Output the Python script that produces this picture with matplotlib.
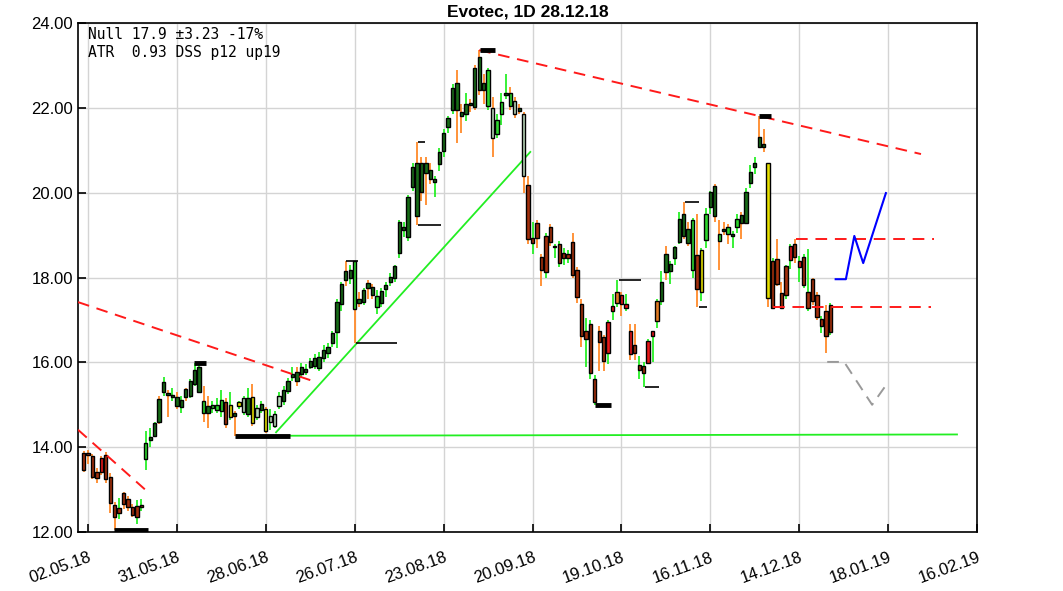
import numpy as np
import matplotlib
matplotlib.use('Agg')
import matplotlib.pyplot as plt

# candle index: 0 = 02.05.18, one step = one trading day
first_day = -1
# body ends (a = open, b = close), high, low, body colour, wick colour
a = [13.87, 13.87, 13.79, 13.42, 13.74, 13.82, 13.29, 12.64, 12.56, 12.91,
     12.77, 12.58, 12.62, 12.63, 13.72, 14.17, 14.27, 14.60, 15.29, 15.22,
     15.19, 14.96, 14.94, 15.19, 15.21, 15.50, 15.31, 14.80, 14.81, 14.92,
     14.88, 14.86, 15.07, 14.99, 14.80, 15.06, 15.15, 14.78, 15.18, 14.72,
     14.88, 14.89, 14.60, 14.50, 14.97, 15.10, 15.33, 15.65, 15.56, 15.73,
     15.78, 15.90, 15.92, 15.86, 16.10, 16.21, 16.45, 16.72, 17.37, 17.93,
     17.98, 17.25, 17.39, 17.43, 17.75, 17.59, 17.31, 17.39, 17.72, 17.90,
     17.98, 18.57, 19.12, 18.95, 20.14, 19.46, 20.02, 20.47, 20.32, 20.26,
     20.68, 20.98, 21.54, 21.95, 21.95, 21.81, 21.85, 22.06, 22.03, 22.42,
     22.42, 22.05, 21.28, 21.38, 21.85, 22.30, 22.04, 21.85, 21.93, 20.39,
     20.18, 18.92, 19.28, 18.48, 18.99, 19.20, 18.74, 18.78, 18.57, 18.55,
     18.84, 18.18, 17.37, 16.74, 16.90, 15.60, 16.75, 16.59, 16.94, 17.33,
     17.41, 17.59, 17.37, 16.74, 16.41, 15.94, 15.92, 16.50, 16.73, 16.98,
     17.44, 18.12, 18.16, 18.45, 18.83, 18.99, 18.81, 18.18, 18.54, 17.67,
     18.88, 19.67, 19.45, 18.87, 19.10, 19.03, 18.99, 19.18, 19.28, 19.28,
     20.22, 20.60, 21.08, 21.07, 20.71, 18.40, 18.44, 17.63, 18.26, 18.74,
     18.79, 18.39, 18.49, 17.65, 17.96, 17.59, 17.02, 17.21, 17.35]
b = [13.46, 13.81, 13.29, 13.27, 13.42, 13.24, 12.69, 12.35, 12.44, 12.65,
     12.58, 12.39, 12.35, 12.58, 14.10, 14.25, 14.56, 15.13, 15.53, 15.28,
     15.23, 15.19, 15.11, 15.36, 15.56, 15.82, 15.88, 15.10, 14.97, 14.99,
     15.00, 15.11, 14.55, 14.72, 14.74, 14.96, 14.84, 15.15, 14.58, 14.92,
     15.02, 14.37, 14.74, 14.78, 15.21, 15.35, 15.57, 15.73, 15.77, 15.88,
     15.84, 16.04, 16.10, 16.13, 16.30, 16.35, 16.68, 17.42, 17.84, 18.16,
     18.18, 18.40, 17.50, 17.70, 17.86, 17.78, 17.56, 17.68, 17.82, 18.02,
     18.27, 19.30, 19.20, 19.89, 20.61, 20.69, 20.69, 20.70, 20.53, 20.32,
     20.95, 21.40, 21.75, 22.47, 22.58, 21.91, 22.08, 22.11, 22.93, 23.19,
     22.58, 22.89, 21.99, 21.71, 22.13, 22.36, 22.34, 22.16, 21.99, 21.85,
     18.90, 18.81, 18.92, 18.18, 18.12, 18.84, 18.71, 18.34, 18.45, 18.45,
     18.07, 17.53, 16.61, 16.54, 15.74, 15.07, 16.47, 16.02, 16.23, 17.22,
     17.65, 17.37, 17.27, 16.20, 16.21, 15.82, 15.74, 15.99, 16.63, 17.44,
     17.90, 18.55, 18.33, 18.73, 19.38, 19.50, 19.14, 19.36, 17.72, 18.66,
     19.49, 20.02, 20.16, 19.03, 19.14, 19.18, 19.03, 19.37, 19.47, 20.02,
     20.49, 20.71, 21.32, 21.15, 17.51, 17.27, 17.85, 17.29, 17.59, 18.41,
     18.49, 18.24, 17.82, 17.27, 17.45, 17.08, 16.86, 16.61, 16.71]
hi = [13.92, 13.93, 13.85, 13.50, 13.80, 13.88, 13.40, 12.70, 12.80, 12.95,
      12.85, 12.65, 12.75, 12.78, 14.37, 14.45, 14.60, 15.20, 15.66, 15.35,
      15.40, 15.30, 15.20, 15.40, 15.60, 15.99, 15.99, 15.45, 15.20, 15.10,
      15.15, 15.35, 15.15, 15.30, 14.85, 15.10, 15.20, 15.40, 15.48, 15.00,
      15.10, 14.95, 14.90, 14.85, 15.30, 15.45, 15.62, 15.90, 15.90, 15.98,
      15.95, 16.10, 16.20, 16.25, 16.40, 16.45, 16.75, 17.50, 17.90, 18.40,
      18.30, 18.40, 17.65, 17.75, 17.95, 17.85, 17.70, 17.75, 17.90, 18.10,
      18.30, 19.35, 19.30, 19.95, 20.70, 21.20, 20.85, 20.85, 20.70, 20.40,
      21.05, 21.50, 21.80, 22.55, 22.90, 22.10, 22.35, 22.20, 23.00, 23.36,
      22.80, 22.95, 22.25, 21.85, 22.35, 22.80, 22.50, 22.25, 22.10, 21.90,
      20.40, 19.30, 19.35, 18.55, 19.05, 19.25, 18.80, 18.85, 18.70, 18.65,
      19.05, 18.25, 17.50, 17.05, 17.00, 15.70, 16.85, 16.65, 17.00, 17.60,
      17.94, 17.65, 17.60, 16.90, 16.90, 16.15, 16.00, 16.55, 16.75, 17.50,
      18.15, 18.75, 18.40, 18.75, 19.55, 19.79, 19.30, 19.40, 19.50, 18.70,
      19.65, 20.05, 20.20, 19.36, 19.30, 19.25, 19.10, 19.50, 19.55, 20.10,
      20.65, 20.85, 21.80, 21.50, 20.71, 18.45, 18.90, 17.90, 18.30, 18.80,
      18.90, 18.50, 18.55, 18.67, 18.00, 17.65, 17.10, 17.35, 17.40]
lo = [13.42, 13.60, 13.25, 13.15, 13.35, 13.15, 12.45, 12.05, 12.30, 12.55,
      12.50, 12.35, 12.20, 12.50, 13.46, 14.00, 14.25, 14.55, 15.20, 14.72,
      15.10, 14.90, 14.80, 15.10, 15.15, 15.45, 15.30, 14.60, 14.45, 14.80,
      14.80, 14.70, 14.45, 14.65, 14.26, 14.90, 14.75, 14.70, 14.50, 14.65,
      14.80, 14.33, 14.40, 14.45, 14.90, 15.00, 15.25, 15.55, 15.45, 15.65,
      15.70, 15.85, 15.85, 15.80, 16.00, 16.10, 16.35, 16.34, 17.20, 17.80,
      17.85, 16.45, 17.30, 17.35, 17.50, 17.50, 17.15, 17.30, 17.55, 17.80,
      17.90, 18.45, 18.95, 18.85, 20.05, 19.24, 19.80, 19.70, 20.20, 19.90,
      20.50, 20.85, 21.40, 21.85, 21.17, 21.40, 21.70, 21.90, 21.95, 22.30,
      22.10, 21.95, 20.85, 21.30, 21.60, 22.20, 21.95, 21.75, 21.85, 20.00,
      18.80, 18.55, 18.70, 17.80, 18.00, 18.75, 18.45, 18.25, 18.30, 18.35,
      18.00, 17.40, 16.35, 15.90, 15.60, 14.99, 15.80, 15.80, 15.95, 17.00,
      17.30, 17.10, 17.20, 16.05, 16.05, 15.60, 15.43, 15.95, 16.00, 16.80,
      17.35, 17.95, 17.85, 18.30, 18.80, 18.90, 18.75, 18.00, 17.31, 17.45,
      18.70, 19.50, 19.30, 18.18, 19.00, 18.80, 18.70, 19.05, 18.90, 19.25,
      20.10, 20.45, 21.05, 20.95, 17.30, 17.27, 17.80, 17.29, 17.50, 18.20,
      18.35, 17.90, 17.75, 17.20, 17.35, 17.00, 16.70, 16.21, 16.65]
body = ('br br br br rd br br br br br '
        'br br br br lg dg dg dg dg dg '
        'dg dg dg dg dg dg dg lg dg lg '
        'lg lg br ye dg ye pg dg ye pg '
        'dg ye pg pg pg dg dg dg dg dg '
        'dg dg dg dg dg dg dg dg dg dg '
        'dg lg dg dg dg dg lg dg dg dg '
        'dg dg dg dg dg dg dg dg dg dg '
        'dg dg dg dg dg dg dg dg dg dg '
        'dg lg pg lg lg dg lg pg dg pg '
        'br br br br br br br br br br '
        'br br br br br br br br rd rd '
        'or rd rd rd br br br rd rd or '
        'dg dg dg dg dg dg dg lg br ye '
        'lg dg dg lg dg lg dg lg dg dg '
        'dg dg dg dg ye br br br br rd '
        'br rd br br br br br br br').split()
wick = ('o o o o o o o o g o '
        'o o g g g g g o g o '
        'g o g o g g g o o g '
        'g g o g o g g g o g '
        'g o g g g g g g o g '
        'g g g g g g g g g o '
        'g o o g o o g g g g '
        'g g g g g o o o o g '
        'g g g g o o g o o o '
        'o g o g g g o o o o '
        'o g o o g o g g g g '
        'o o o g g g o o g g '
        'g o g o o g g g g g '
        'g o g g g o o g o g '
        'g g o o o o g g o g '
        'g g o o o g o o g g '
        'o g g g o o g o g').split()

# overlay lines (index, price)
res1_x, res1_y = [-2.25, 50.3], [17.42, 15.57]
res2_x, res2_y = [-2.25, 13.5], [14.41, 12.94]
res3_x, res3_y = [88.0, 187.4], [23.36, 20.91]
lvl_hi_x, lvl_hi_y = [159.3, 190.3], [18.91, 18.91]
lvl_lo_x, lvl_lo_y = [154.0, 189.7], [17.30, 17.30]
sup_x, sup_y = [45.4, 195.5], [14.27, 14.30]
up_x, up_y = [42.3, 99.5], [14.35, 20.96]
fc_up_x = [168.2, 170.5, 172.4, 174.4, 179.5]
fc_up_y = [17.96, 17.96, 18.98, 18.34, 19.99]
fc_dn_x = [166.3, 170.1, 176.4, 180.2]
fc_dn_y = [16.01, 16.01, 15.00, 15.56]
# black marks: (x0, x1, price, thick)
marks = [(5.9, 13.5, 12.05, 1), (23.8, 26.5, 15.99, 1), (33.0, 45.4, 14.27, 1),
         (58.1, 60.7, 18.40, 0), (60.3, 69.4, 16.45, 0), (74.2, 75.8, 21.19, 0),
         (74.2, 79.3, 19.24, 0), (88.1, 91.6, 23.36, 1), (114.0, 117.7, 14.99, 1),
         (119.4, 124.4, 17.94, 0), (125.2, 128.5, 15.42, 0), (134.4, 137.5, 19.78, 0),
         (137.5, 139.3, 17.31, 0), (151.0, 153.6, 21.80, 1)]

tick_pos = [0, 20, 40, 60, 80, 100, 120, 140, 160, 180, 200]
tick_lab = ['02.05.18', '31.05.18', '28.06.18', '26.07.18', '23.08.18', '20.09.18',
            '19.10.18', '16.11.18', '14.12.18', '18.01.19', '16.02.19']

cols = {'dg': '#176b17', 'lg': '#2ed62e', 'pg': '#b9d6b9', 'br': '#a3300c',
        'rd': '#e81818', 'or': '#e07a22', 'ye': '#e6df00'}
wcols = {'g': '#28f028', 'o': '#ff8a2a'}

plt.rcParams['font.family'] = ['Liberation Sans', 'DejaVu Sans']
fig = plt.figure(figsize=(10.63, 5.91), dpi=100)
ax = fig.add_axes([0.0734, 0.0998, 0.8457, 0.8613])

x = np.arange(len(a)) + first_day
a = np.array(a); b = np.array(b)
ax.vlines(x, lo, hi, colors=[wcols[w] for w in wick], lw=1.3, zorder=3)
bot = np.minimum(a, b)
h = np.maximum(np.abs(a - b), 0.03)
ax.bar(x, h, bottom=bot, width=0.75, color=[cols[c] for c in body],
       edgecolor='black', lw=1.0, zorder=4)

dash = dict(color='#ff1a1a', lw=1.4, dashes=(6, 4), zorder=5)
ax.plot(res1_x, res1_y, **dash)
ax.plot(res2_x, res2_y, **dash)
ax.plot(res3_x, res3_y, **dash)
ax.plot(lvl_hi_x, lvl_hi_y, **dash)
ax.plot(lvl_lo_x, lvl_lo_y, **dash)
ax.plot(sup_x, sup_y, color='#22ee22', lw=1.3, zorder=2)
ax.plot(up_x, up_y, color='#22ee22', lw=1.3, zorder=2)
ax.plot(fc_up_x, fc_up_y, color='#0000ff', lw=1.5, zorder=5)
ax.plot(fc_dn_x, fc_dn_y, color='#999999', lw=1.4, dashes=(6, 4), zorder=5)
for x0, x1, p, thick in marks:
    ax.plot([x0, x1], [p, p], color='black', lw=3.5 if thick else 1.2,
            solid_capstyle='butt', zorder=6)

ax.text(0.011, 0.993, 'Null 17.9 \u00b13.23 -17%\nATR  0.93 DSS p12 up19',
        transform=ax.transAxes, ha='left', va='top', fontsize=10.5,
        family='DejaVu Sans Mono', linespacing=1.3, zorder=7)

ax.set_xlim(-2.25, 200)
ax.set_ylim(12, 24)
ax.set_yticks(np.arange(12, 24.1, 2))
ax.set_yticklabels(['%.2f' % v for v in np.arange(12, 24.1, 2)])
ax.set_xticks(tick_pos)
ax.set_xticklabels(tick_lab, rotation=20, ha='right', rotation_mode='anchor')
ax.tick_params(direction='in', length=6, width=1.2, labelsize=12, color='black')
ax.tick_params(axis='x', pad=13)
ax.grid(True, color='#d4d4d4', lw=1.0, zorder=0)
ax.set_axisbelow(True)
for s in ax.spines.values():
    s.set_linewidth(1.2)
ax.set_title('Evotec, 1D 28.12.18', fontsize=12.5, fontweight='bold', pad=5)

fig.savefig('out.png', dpi=100)
